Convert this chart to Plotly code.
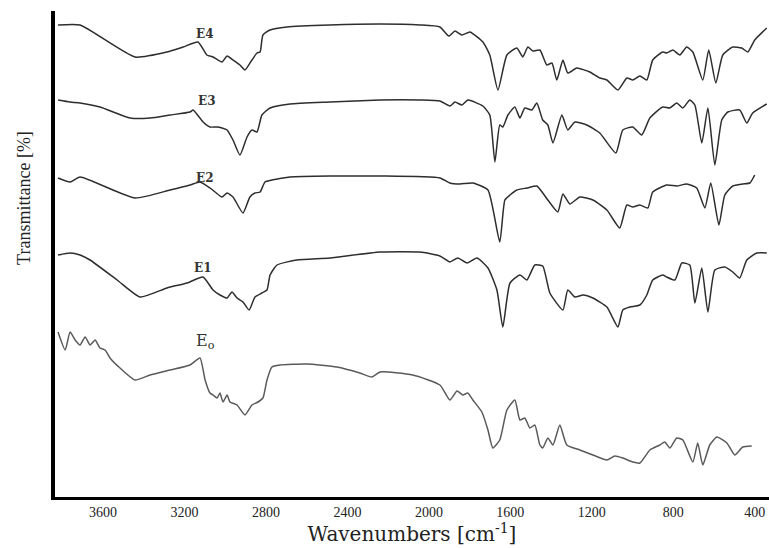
import plotly.graph_objects as go

# FTIR spectra (wavenumber in cm^-1, transmittance in arbitrary offset units)
e4_wn = [3821, 3713, 3443, 3286, 3207, 3134, 3090, 3060, 3016, 2991, 2962, 2928, 2903, 2869, 2844, 2829,
         2815, 2780, 2697, 2486, 2240, 2044, 1946, 1902, 1872, 1838, 1799, 1735, 1701, 1661, 1617, 1568,
         1539, 1514, 1490, 1455, 1421, 1396, 1372, 1342, 1318, 1274, 1210, 1161, 1126, 1072, 1028, 999,
         964, 930, 901, 852, 832, 802, 768, 734, 704, 655, 626, 591, 557, 508, 464, 434, 400, 341]
e4_t = [472, 472, 440, 445, 450, 455, 442, 440, 435, 441, 437, 432, 427, 437, 444, 445,
        462, 467, 470, 472, 473, 472, 470, 461, 466, 462, 465, 455, 442, 407, 442, 449,
        440, 450, 446, 447, 432, 434, 417, 437, 424, 429, 425, 419, 417, 407, 419, 417,
        421, 417, 437, 445, 444, 447, 442, 450, 445, 417, 447, 414, 442, 450, 449, 445, 457, 469]

e3_wn = [3821, 3762, 3713, 3615, 3467, 3369, 3271, 3173, 3158, 3109, 3075, 3040, 3016, 2991, 2962, 2928,
         2893, 2869, 2844, 2820, 2780, 2682, 2486, 2240, 2044, 1946, 1897, 1872, 1838, 1809, 1735, 1701,
         1676, 1652, 1637, 1612, 1578, 1553, 1529, 1495, 1470, 1441, 1416, 1391, 1347, 1318, 1283, 1225,
         1161, 1082, 1048, 999, 955, 915, 852, 817, 783, 753, 719, 694, 660, 630, 596, 562, 532, 474,
         439, 410, 341]
e3_t = [397, 395, 394, 390, 379, 379, 382, 385, 387, 375, 370, 370, 369, 367, 357, 342,
        360, 367, 365, 382, 389, 393, 395, 397, 397, 396, 391, 395, 392, 397, 391, 382,
        335, 372, 370, 382, 390, 379, 389, 387, 394, 377, 372, 354, 382, 367, 375, 372,
        364, 344, 367, 370, 362, 379, 390, 389, 394, 389, 397, 392, 354, 389, 332, 377, 385, 387,
        374, 384, 393]

e2_wn = [3821, 3762, 3713, 3443, 3271, 3173, 3124, 3075, 3050, 3016, 2991, 2962, 2913, 2879, 2854, 2829,
         2805, 2771, 2682, 2486, 2240, 1946, 1897, 1848, 1784, 1710, 1652, 1627, 1602, 1568, 1519, 1470,
         1441, 1416, 1367, 1342, 1308, 1259, 1195, 1126, 1063, 1028, 999, 964, 925, 901, 832, 783,
         734, 685, 645, 616, 576, 547, 508, 459, 424, 400]
e2_t = [319, 315, 320, 299, 307, 312, 315, 309, 305, 300, 304, 300, 284, 300, 304, 305,
        315, 317, 320, 321, 321, 319, 314, 313, 314, 307, 255, 297, 302, 307, 309, 311,
        304, 297, 285, 303, 293, 300, 297, 287, 269, 292, 290, 292, 289, 305, 312, 311,
        313, 309, 289, 314, 272, 302, 311, 313, 314, 322]

e1_wn = [3821, 3762, 3713, 3664, 3531, 3418, 3286, 3188, 3109, 3060, 3026, 2991, 2967, 2942, 2913, 2883,
         2854, 2820, 2795, 2780, 2746, 2648, 2486, 2240, 2044, 1946, 1897, 1858, 1813, 1764, 1710, 1666,
         1637, 1602, 1553, 1519, 1480, 1441, 1406, 1342, 1318, 1283, 1244, 1195, 1126, 1072, 1048, 1013,
         964, 930, 901, 852, 832, 792, 758, 719, 694, 660, 630, 596, 547, 508, 474, 439, 390, 341]
e1_t = [242, 244, 242, 237, 217, 200, 209, 214, 220, 207, 202, 199, 205, 199, 195, 187,
        200, 204, 207, 222, 232, 237, 239, 245, 245, 241, 235, 239, 234, 239, 229, 207,
        170, 214, 222, 217, 232, 231, 204, 187, 207, 200, 202, 199, 190, 170, 187, 190,
        192, 202, 217, 222, 220, 217, 234, 232, 194, 229, 185, 227, 230, 225, 219, 237, 244, 244]

eo_wn = [3821, 3786, 3762, 3737, 3713, 3688, 3664, 3639, 3615, 3590, 3566, 3517, 3443, 3369, 3271, 3173,
         3124, 3099, 3075, 3060, 3040, 3026, 3011, 2991, 2977, 2942, 2903, 2869, 2839, 2815, 2795, 2771,
         2731, 2599, 2452, 2339, 2280, 2240, 2079, 1946, 1897, 1862, 1833, 1809, 1784, 1740, 1710, 1686,
         1652, 1617, 1578, 1553, 1529, 1504, 1480, 1455, 1441, 1416, 1391, 1357, 1323, 1259, 1195, 1126,
         1087, 1048, 999, 964, 915, 866, 842, 817, 783, 753, 704, 680, 655, 621, 586, 537, 498, 459, 415]
eo_t = [165, 147, 165, 157, 152, 160, 152, 157, 149, 147, 139, 129, 117, 122, 127, 132,
        139, 117, 104, 102, 99, 104, 95, 102, 95, 92, 82, 92, 95, 99, 117, 130,
        132, 133, 130, 124, 120, 125, 122, 112, 97, 106, 102, 104, 97, 85, 67, 49,
        57, 87, 97, 77, 79, 69, 72, 52, 49, 59, 52, 72, 52, 47, 42, 37,
        41, 39, 35, 34, 47, 52, 55, 49, 59, 57, 35, 54, 32, 52, 60, 54, 42, 50, 51]

x_ticks = [3600, 3200, 2800, 2400, 2000, 1600, 1200, 800, 400]

series = [
    ("E4", e4_wn, e4_t, "#2e2e2e"),
    ("E3", e3_wn, e3_t, "#2e2e2e"),
    ("E2", e2_wn, e2_t, "#2e2e2e"),
    ("E1", e1_wn, e1_t, "#2e2e2e"),
    ("Eo", eo_wn, eo_t, "#5a5a5a"),
]

fig = go.Figure()
for name, xs, ys, col in series:
    fig.add_trace(go.Scatter(x=xs, y=ys, mode="lines", name=name,
                             line=dict(color=col, width=1.5, shape="spline", smoothing=0.5),
                             showlegend=False))

for txt, x, y, sz in [("<b>E4</b>", 3099, 463, 12), ("<b>E3</b>", 3090, 396, 12),
                      ("<b>E2</b>", 3099, 319, 12), ("<b>E1</b>", 3109, 229, 12),
                      ("E<sub>o</sub>", 3099, 156, 16)]:
    fig.add_annotation(x=x, y=y, text=txt, showarrow=False,
                       font=dict(family="DejaVu Serif", size=sz, color="#333333"))

# y-axis title (placed like the reference, above the plot centre)
fig.add_annotation(xref="paper", yref="y", x=-0.0435, y=299, text="Transmittance [%]",
                   textangle=-90, showarrow=False, xanchor="center", yanchor="middle",
                   font=dict(family="Liberation Serif", size=18, color="#222"))

fig.update_layout(
    width=769, height=548,
    margin=dict(l=55, r=0, t=11, b=51),
    paper_bgcolor="white", plot_bgcolor="white",
    xaxis=dict(range=[3836, 330], tickmode="array", tickvals=x_ticks,
               ticktext=[str(v) for v in x_ticks],
               showgrid=False, zeroline=False, showline=True, linecolor="black", linewidth=3,
               ticks="", tickfont=dict(family="Liberation Serif", size=14, color="#222"),
               title=dict(text="Wavenumbers [cm<sup>-1</sup>]",
                          font=dict(family="DejaVu Serif", size=20, color="#222"), standoff=6)),
    yaxis=dict(range=[0, 486], showticklabels=False, showgrid=False, zeroline=False,
               showline=True, linecolor="black", linewidth=4, ticks=""),
)

fig.write_html("out.html", config={"displayModeBar": False},
               post_script="document.body.style.margin='0';document.body.style.overflow='hidden';")
